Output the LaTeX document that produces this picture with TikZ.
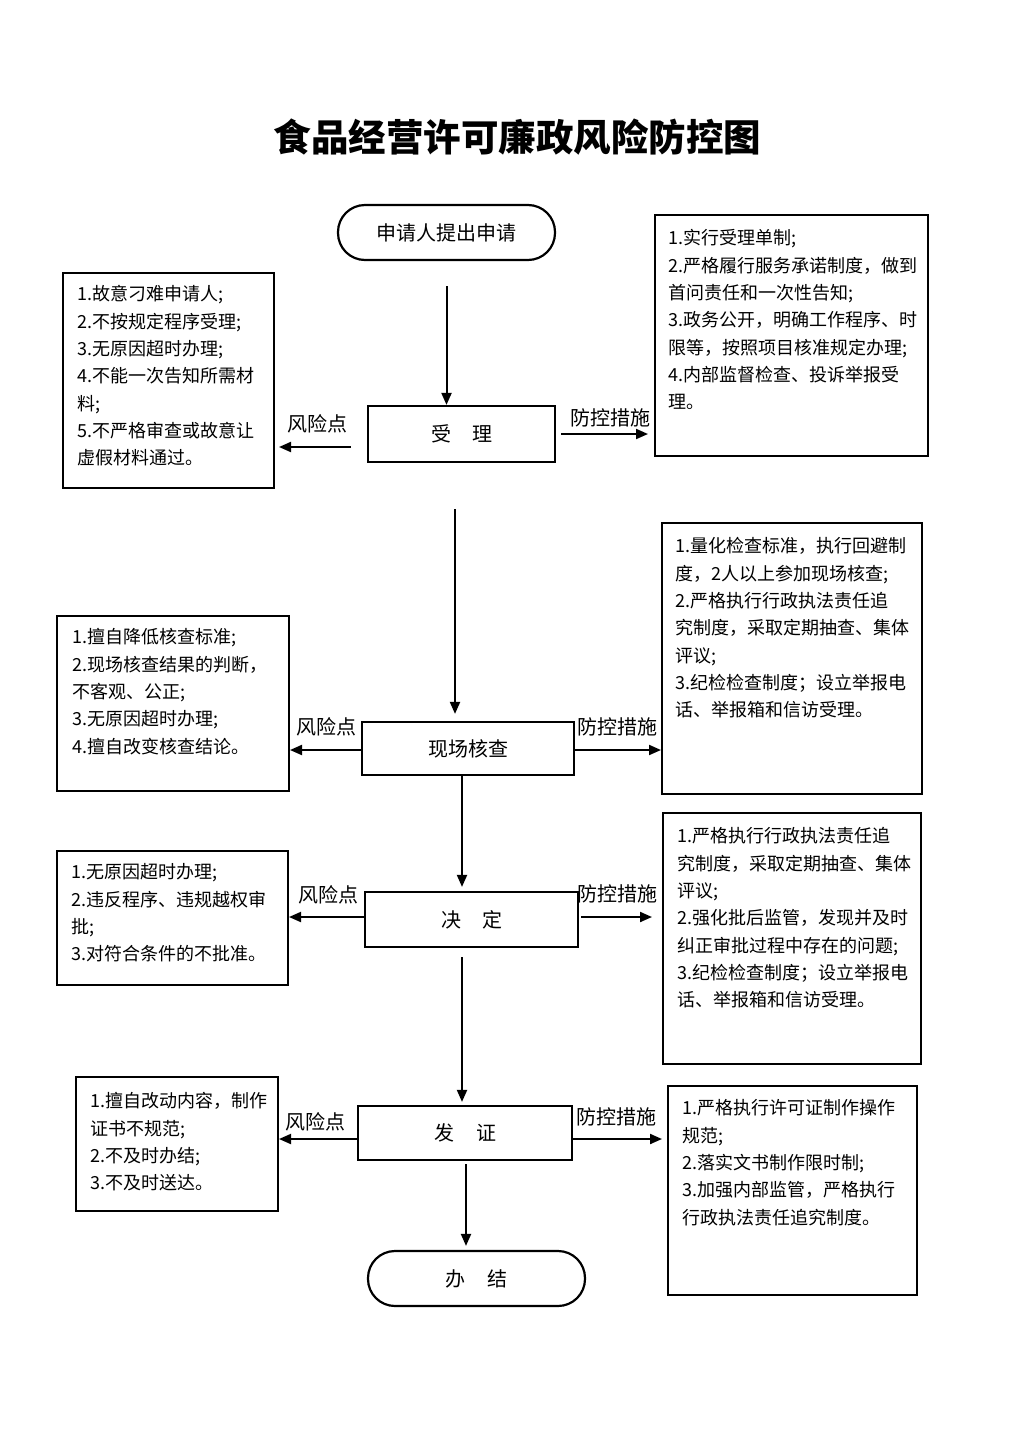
\documentclass[tikz,border=0pt]{standalone}
\usepackage{fontspec}
\newfontfamily\cjk{Noto Sans CJK SC}
\usetikzlibrary{arrows.meta}
\begin{document}
\begin{tikzpicture}[x=1pt,y=-1pt,
  flowbox/.style={draw, line width=2.2pt, inner sep=0pt, font=\cjk\fontsize{20}{24}\selectfont},
  pillbox/.style={flowbox, rounded corners=27pt},
  infobox/.style={draw, line width=2pt, inner sep=0pt, anchor=north west},
  infotext/.style={anchor=north west, inner sep=0pt, align=left, font=\cjk\fontsize{18}{27.3}\selectfont},
  lbl/.style={inner sep=0pt, font=\cjk\fontsize{20}{24}\selectfont},
  arr/.style={line width=2pt, -{Triangle[length=12pt,width=10pt]}}]
\fill[white] (0,0) rectangle (1024,1448);
\useasboundingbox (0,0) rectangle (1024,1448);

% title
\node[inner sep=0pt, font=\cjk\bfseries\fontsize{37.5}{40}\selectfont] (title) at (517.5,137) {食品经营许可廉政风险防控图};

% main flow
\node[pillbox, minimum width=217pt, minimum height=55pt] (start) at (446.5,232.5) {申请人提出申请};
\node[flowbox, minimum width=187pt, minimum height=56pt] (accept) at (461.5,434) {受\hspace{1.05em}理};
\node[flowbox, minimum width=212pt, minimum height=53pt] (site) at (468,748.5) {现场核查};
\node[flowbox, minimum width=213pt, minimum height=55pt] (decide) at (471.5,919.5) {决\hspace{1.05em}定};
\node[flowbox, minimum width=214pt, minimum height=54pt] (issue) at (465,1133) {发\hspace{1.1em}证};
\node[pillbox, minimum width=217pt, minimum height=55pt] (finish) at (476.5,1278.5) {办\hspace{1.1em}结};

% info boxes
\node[infobox, minimum width=211pt, minimum height=215pt] (r1) at (62,272) {};
\node[infobox, minimum width=273pt, minimum height=241pt] (m1) at (654,214) {};
\node[infobox, minimum width=232pt, minimum height=175pt] (r2) at (56,615) {};
\node[infobox, minimum width=260pt, minimum height=271pt] (m2) at (661,522) {};
\node[infobox, minimum width=231pt, minimum height=134pt] (r3) at (56,850) {};
\node[infobox, minimum width=258pt, minimum height=251pt] (m3) at (662,812) {};
\node[infobox, minimum width=202pt, minimum height=134pt] (r4) at (75,1076) {};
\node[infobox, minimum width=249pt, minimum height=209pt] (m4) at (667,1085) {};

% info texts
\node[infotext] (r1t) at (77,285.5) {1.故意刁难申请人;\\2.不按规定程序受理;\\3.无原因超时办理;\\4.不能一次告知所需材\\料;\\5.不严格审查或故意让\\虚假材料通过。};
\node[infotext] (m1t) at (668,229.5) {1.实行受理单制;\\2.严格履行服务承诺制度，做到\\首问责任和一次性告知;\\3.政务公开，明确工作程序、时\\限等，按照项目核准规定办理;\\4.内部监督检查、投诉举报受\\理。};
\node[infotext] (r2t) at (72,628.5) {1.擅自降低核查标准;\\2.现场核查结果的判断，\\不客观、公正;\\3.无原因超时办理;\\4.擅自改变核查结论。};
\node[infotext] (m2t) at (675,537.5) {1.量化检查标准，执行回避制\\度，2人以上参加现场核查;\\2.严格执行行政执法责任追\\究制度，采取定期抽查、集体\\评议;\\3.纪检检查制度；设立举报电\\话、举报箱和信访受理。};
\node[infotext] (r3t) at (71,863.5) {1.无原因超时办理;\\2.违反程序、违规越权审\\批;\\3.对符合条件的不批准。};
\node[infotext] (m3t) at (677,827.5) {1.严格执行行政执法责任追\\究制度，采取定期抽查、集体\\评议;\\2.强化批后监管，发现并及时\\纠正审批过程中存在的问题;\\3.纪检检查制度；设立举报电\\话、举报箱和信访受理。};
\node[infotext] (r4t) at (90,1092.5) {1.擅自改动内容，制作\\证书不规范;\\2.不及时办结;\\3.不及时送达。};
\node[infotext] (m4t) at (682,1099.5) {1.严格执行许可证制作操作\\规范;\\2.落实文书制作限时制;\\3.加强内部监管，严格执行\\行政执法责任追究制度。};

% labels
\node[lbl] (l1) at (317,424) {风险点};
\node[lbl] (p1) at (610,418) {防控措施};
\node[lbl] (l2) at (326,727) {风险点};
\node[lbl] (p2) at (617,727) {防控措施};
\node[lbl] (l3) at (328,895) {风险点};
\node[lbl] (p3) at (617,894) {防控措施};
\node[lbl] (l4) at (315,1122) {风险点};
\node[lbl] (p4) at (616,1117) {防控措施};

% vertical connectors
\draw[arr, shorten <=25pt] (start.south) -- (start.south |- accept.north);
\draw[arr, shorten <=46pt, shorten >=7pt] ([xshift=-6.5pt]accept.south) coordinate (c1) -- (c1 |- site.north);
\draw[arr, shorten >=4pt] ([xshift=-6pt]site.south) coordinate (c2) -- (c2 |- decide.north);
\draw[arr, shorten <=9pt, shorten >=3pt] ([xshift=-9.5pt]decide.south) coordinate (c3) -- (c3 |- issue.north);
\draw[arr, shorten <=3pt, shorten >=4pt] ([xshift=1pt]issue.south) coordinate (c4) -- (c4 |- finish.north);

% horizontal connectors
\draw[arr, shorten <=16pt, shorten >=4pt] ([yshift=-13pt]accept.west) coordinate (a1) -- (a1 -| r1.east);
\draw[arr, shorten <=5pt, shorten >=6pt] (accept.east) -- (accept.east -| m1.west);
\draw[arr] ([yshift=-1.5pt]site.west) coordinate (a2) -- (a2 -| r2.east);
\draw[arr] ([yshift=-1.5pt]site.east) coordinate (b2) -- (b2 -| m2.west);
\draw[arr] ([yshift=2.5pt]decide.west) coordinate (a3) -- (a3 -| r3.east);
\draw[arr, shorten <=2pt, shorten >=10pt] ([yshift=2.5pt]decide.east) coordinate (b3) -- (b3 -| m3.west);
\draw[arr] ([yshift=-6pt]issue.west) coordinate (a4) -- (a4 -| r4.east);
\draw[arr, shorten >=5pt] ([yshift=-6pt]issue.east) coordinate (b4) -- (b4 -| m4.west);
\end{tikzpicture}
\end{document}
